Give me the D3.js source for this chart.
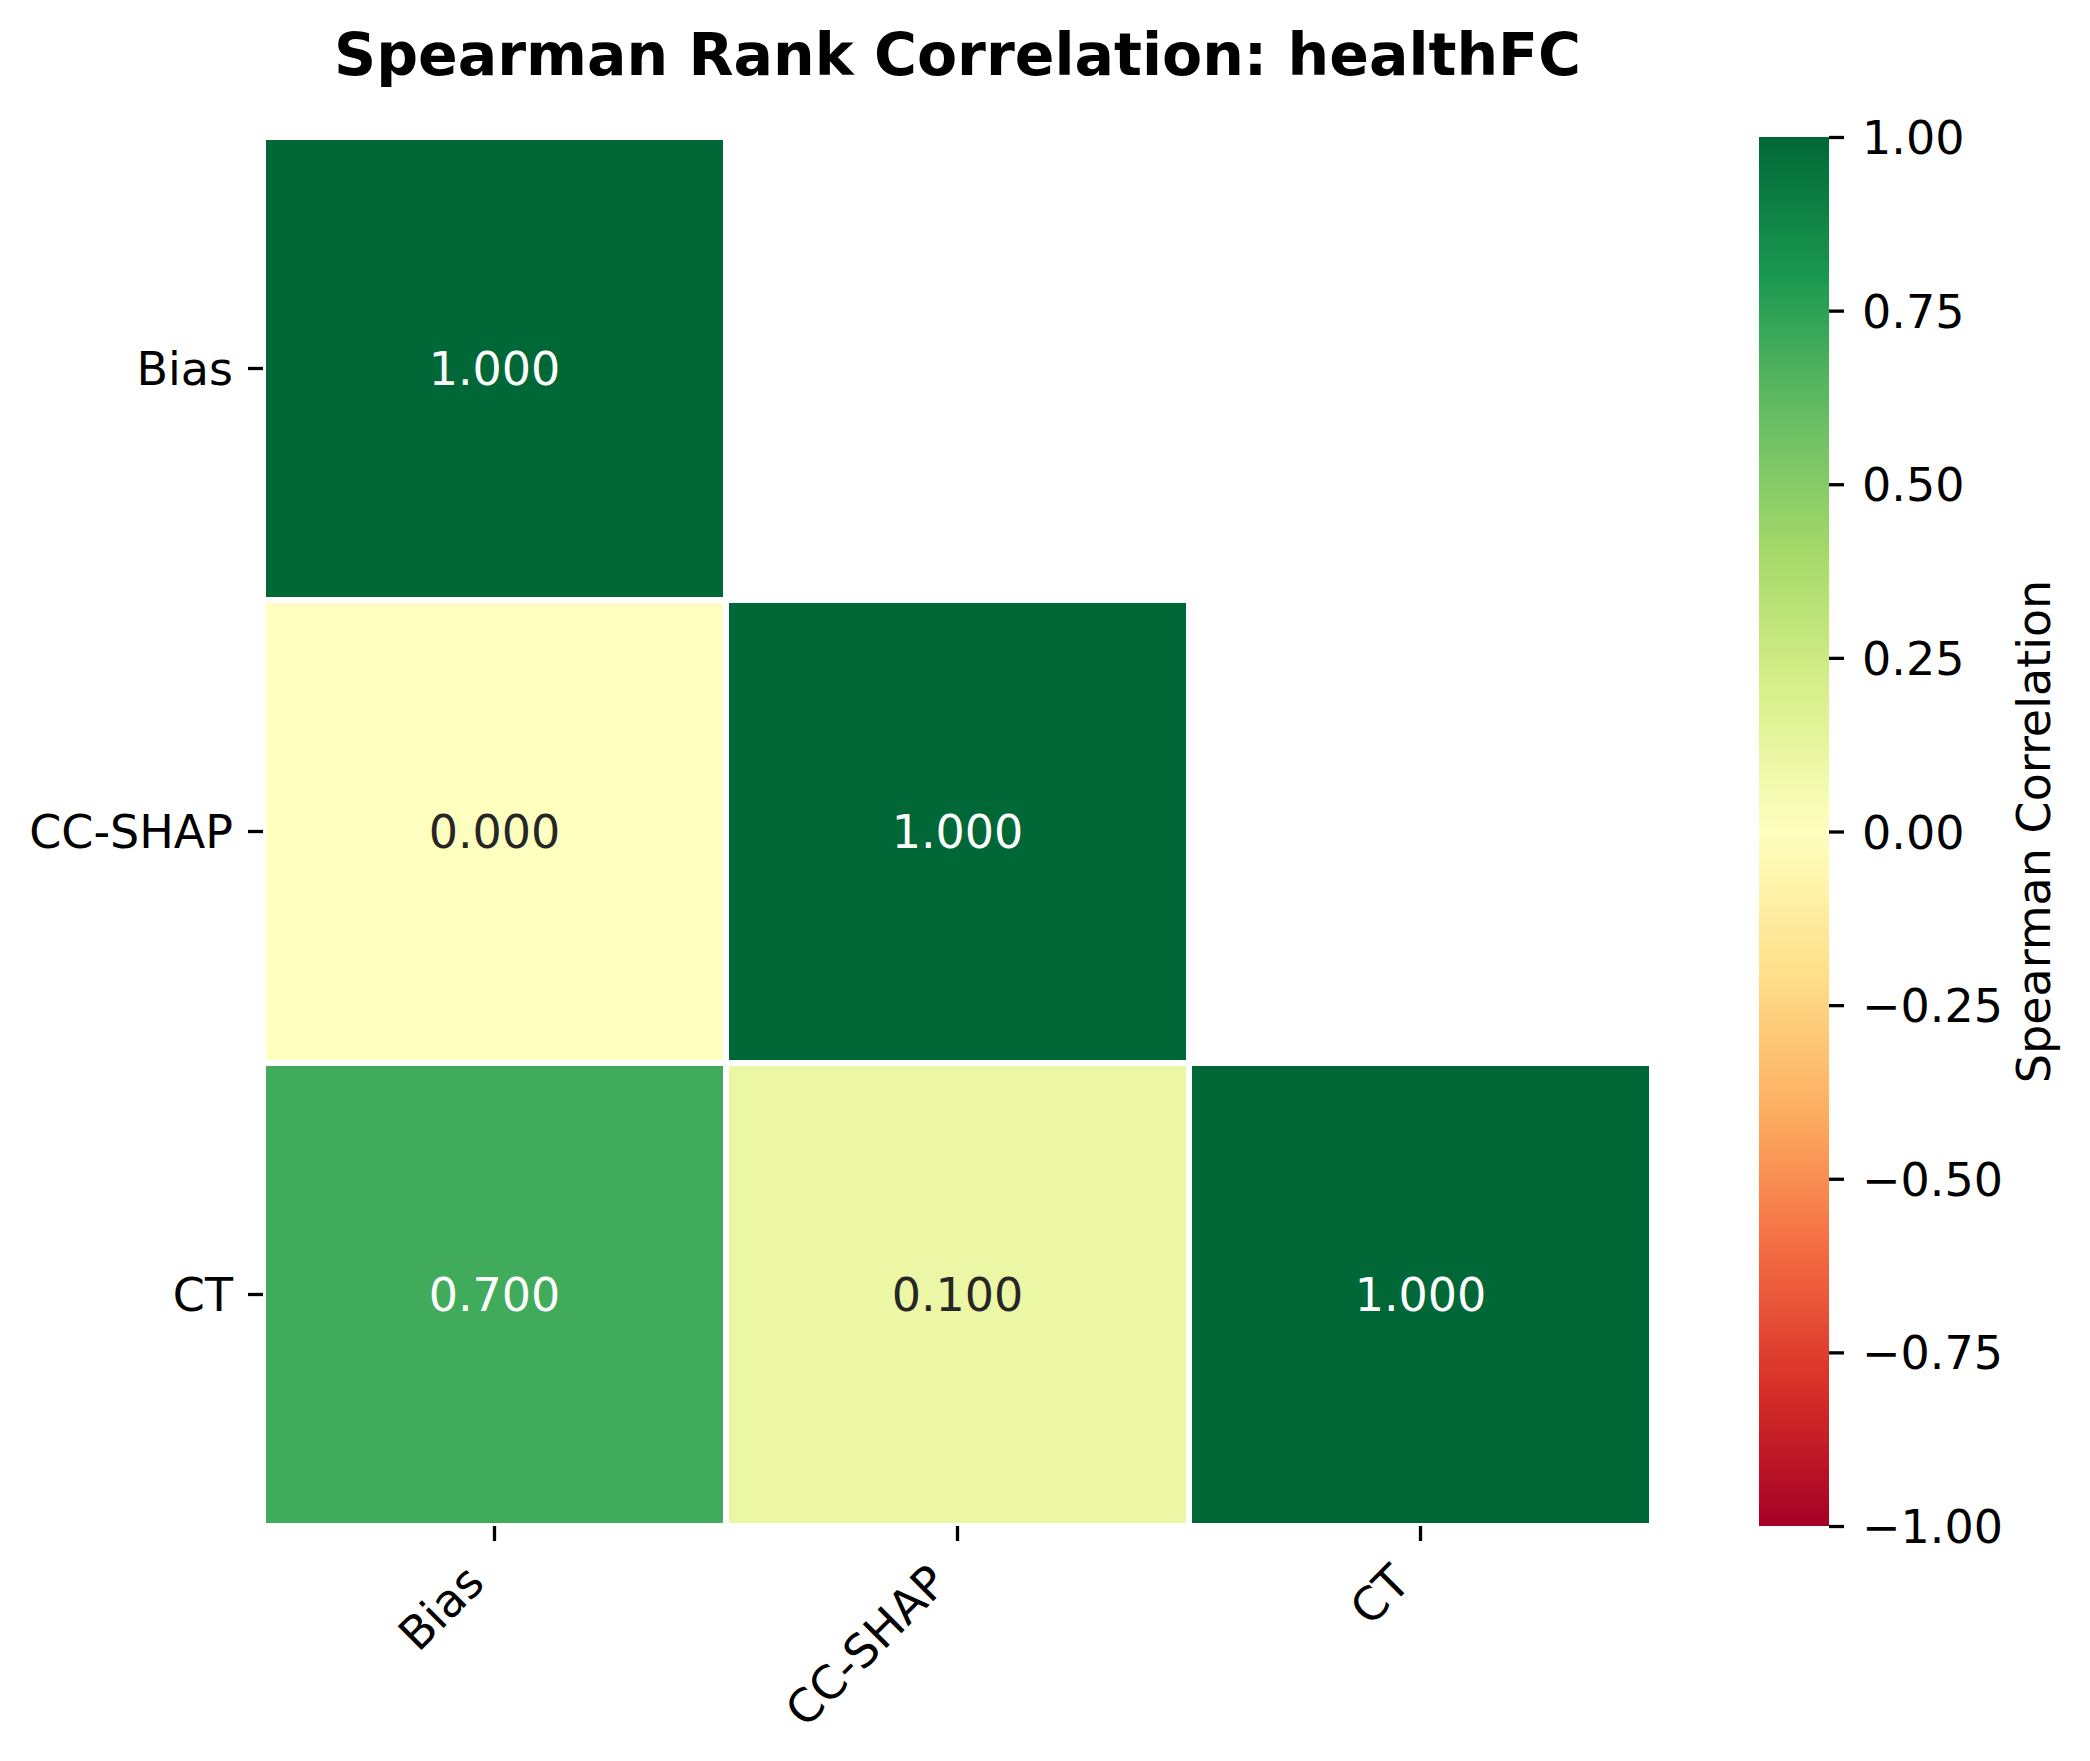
<!DOCTYPE html>
<html>
<head>
<meta charset="utf-8">
<script src="https://cdn.jsdelivr.net/npm/d3@7"></script>
<style>
  body { margin: 0; background: #fff; }
  text { font-family: "DejaVu Sans", sans-serif; }
</style>
</head>
<body>
<div id="chart"></div>
<script>
const metrics = ["Bias", "CC-SHAP", "CT"];
// lower triangle of the correlation matrix, null = masked
const corrRows = [
  [1.0, null, null],
  [0.0, 1.0, null],
  [0.7, 0.1, 1.0]
];
const cbarTicks = [1.0, 0.75, 0.5, 0.25, 0.0, -0.25, -0.5, -0.75, -1.0];
const title = "Spearman Rank Correlation: healthFC";
const cbarLabel = "Spearman Correlation";

const width = 2090;
const height = 1761;
const plot = { left: 263, right: 1652, top: 137, bottom: 1526 };
const cbar = { left: 1759, right: 1829 };
const fs = 46;

const svg = d3.select("#chart")
  .append("svg")
  .attr("width", width)
  .attr("height", height);

// matplotlib RdYlGn = linear ramp over the 11 brewer colours
const brewer = d3.schemeRdYlGn[11];
const color = d3.scaleLinear()
  .domain(d3.range(11).map((i) => -1 + (2 * i) / 10))
  .range(brewer)
  .interpolate(d3.interpolateRgb)
  .clamp(true);

const x = d3.scaleBand().domain(metrics).range([plot.left, plot.right]);
const y = d3.scaleBand().domain(metrics).range([plot.top, plot.bottom]);

const cells = [];
corrRows.forEach((row, i) => {
  row.forEach((v, j) => {
    if (v !== null) cells.push({ r: metrics[i], c: metrics[j], v: v });
  });
});

const cellG = svg.append("g");
cellG.selectAll("rect")
  .data(cells)
  .enter()
  .append("rect")
  .attr("x", (d) => x(d.c))
  .attr("y", (d) => y(d.r))
  .attr("width", x.bandwidth())
  .attr("height", y.bandwidth())
  .attr("fill", (d) => color(d.v))
  .attr("stroke", "#ffffff")
  .attr("stroke-width", 6);

// same rule as seaborn: relative luminance of the cell colour
function textColor(v) {
  const c = d3.rgb(color(v));
  const lin = (u) => {
    u = u / 255;
    return u <= 0.03928 ? u / 12.92 : Math.pow((u + 0.055) / 1.055, 2.4);
  };
  const lum = 0.2126 * lin(c.r) + 0.7152 * lin(c.g) + 0.0722 * lin(c.b);
  return lum > 0.408 ? "#262626" : "#ffffff";
}

cellG.selectAll("text")
  .data(cells)
  .enter()
  .append("text")
  .attr("x", (d) => x(d.c) + x.bandwidth() / 2)
  .attr("y", (d) => y(d.r) + y.bandwidth() / 2)
  .attr("dy", "0.36em")
  .attr("text-anchor", "middle")
  .attr("font-size", fs)
  .attr("fill", (d) => textColor(d.v))
  .text((d) => d3.format(".3f")(d.v));

// y axis
const yAxis = svg.append("g")
  .attr("transform", `translate(${plot.left},0)`)
  .call(d3.axisLeft(y).tickSize(15).tickPadding(15));
yAxis.select(".domain").remove();
yAxis.selectAll(".tick line").attr("stroke", "#000").attr("stroke-width", 3.3);
yAxis.selectAll(".tick text")
  .attr("font-size", fs)
  .attr("fill", "#000")
  .attr("font-family", "DejaVu Sans")
  .attr("dy", "0.36em");

// x axis
const xAxis = svg.append("g")
  .attr("transform", `translate(0,${plot.bottom})`)
  .call(d3.axisBottom(x).tickSize(15).tickPadding(0));
xAxis.select(".domain").remove();
xAxis.selectAll(".tick line").attr("stroke", "#000").attr("stroke-width", 3.3);
xAxis.selectAll(".tick text")
  .attr("font-size", fs)
  .attr("fill", "#000")
  .attr("font-family", "DejaVu Sans")
  .attr("text-anchor", "end")
  .attr("y", null)
  .attr("dy", null)
  .attr("transform", "translate(-8,59) rotate(-45)");

// colorbar
const cy = d3.scaleLinear().domain([-1, 1]).range([plot.bottom, plot.top]);
const grad = svg.append("defs")
  .append("linearGradient")
  .attr("id", "cbar-grad")
  .attr("x1", 0).attr("y1", 1).attr("x2", 0).attr("y2", 0);
grad.selectAll("stop")
  .data(d3.range(0, 101))
  .enter()
  .append("stop")
  .attr("offset", (d) => d / 100)
  .attr("stop-color", (d) => color(-1 + (2 * d) / 100));

svg.append("rect")
  .attr("x", cbar.left)
  .attr("y", plot.top)
  .attr("width", cbar.right - cbar.left)
  .attr("height", plot.bottom - plot.top)
  .attr("fill", "url(#cbar-grad)");

const cAxis = svg.append("g")
  .attr("transform", `translate(${cbar.right},0)`)
  .call(d3.axisRight(cy).tickValues(cbarTicks).tickFormat(d3.format(".2f")).tickSize(15).tickPadding(18));
cAxis.select(".domain").remove();
cAxis.selectAll(".tick line").attr("stroke", "#000").attr("stroke-width", 3.3);
cAxis.selectAll(".tick text")
  .attr("font-size", fs)
  .attr("fill", "#000")
  .attr("font-family", "DejaVu Sans")
  .attr("dy", "0.36em");

svg.append("text")
  .attr("transform", `translate(2050,${(plot.top + plot.bottom) / 2}) rotate(-90)`)
  .attr("text-anchor", "middle")
  .attr("font-size", fs)
  .text(cbarLabel);

svg.append("text")
  .attr("x", (plot.left + plot.right) / 2)
  .attr("y", 75)
  .attr("text-anchor", "middle")
  .attr("font-size", 58.5)
  .attr("font-weight", "bold")
  .text(title);
</script>
</body>
</html>
